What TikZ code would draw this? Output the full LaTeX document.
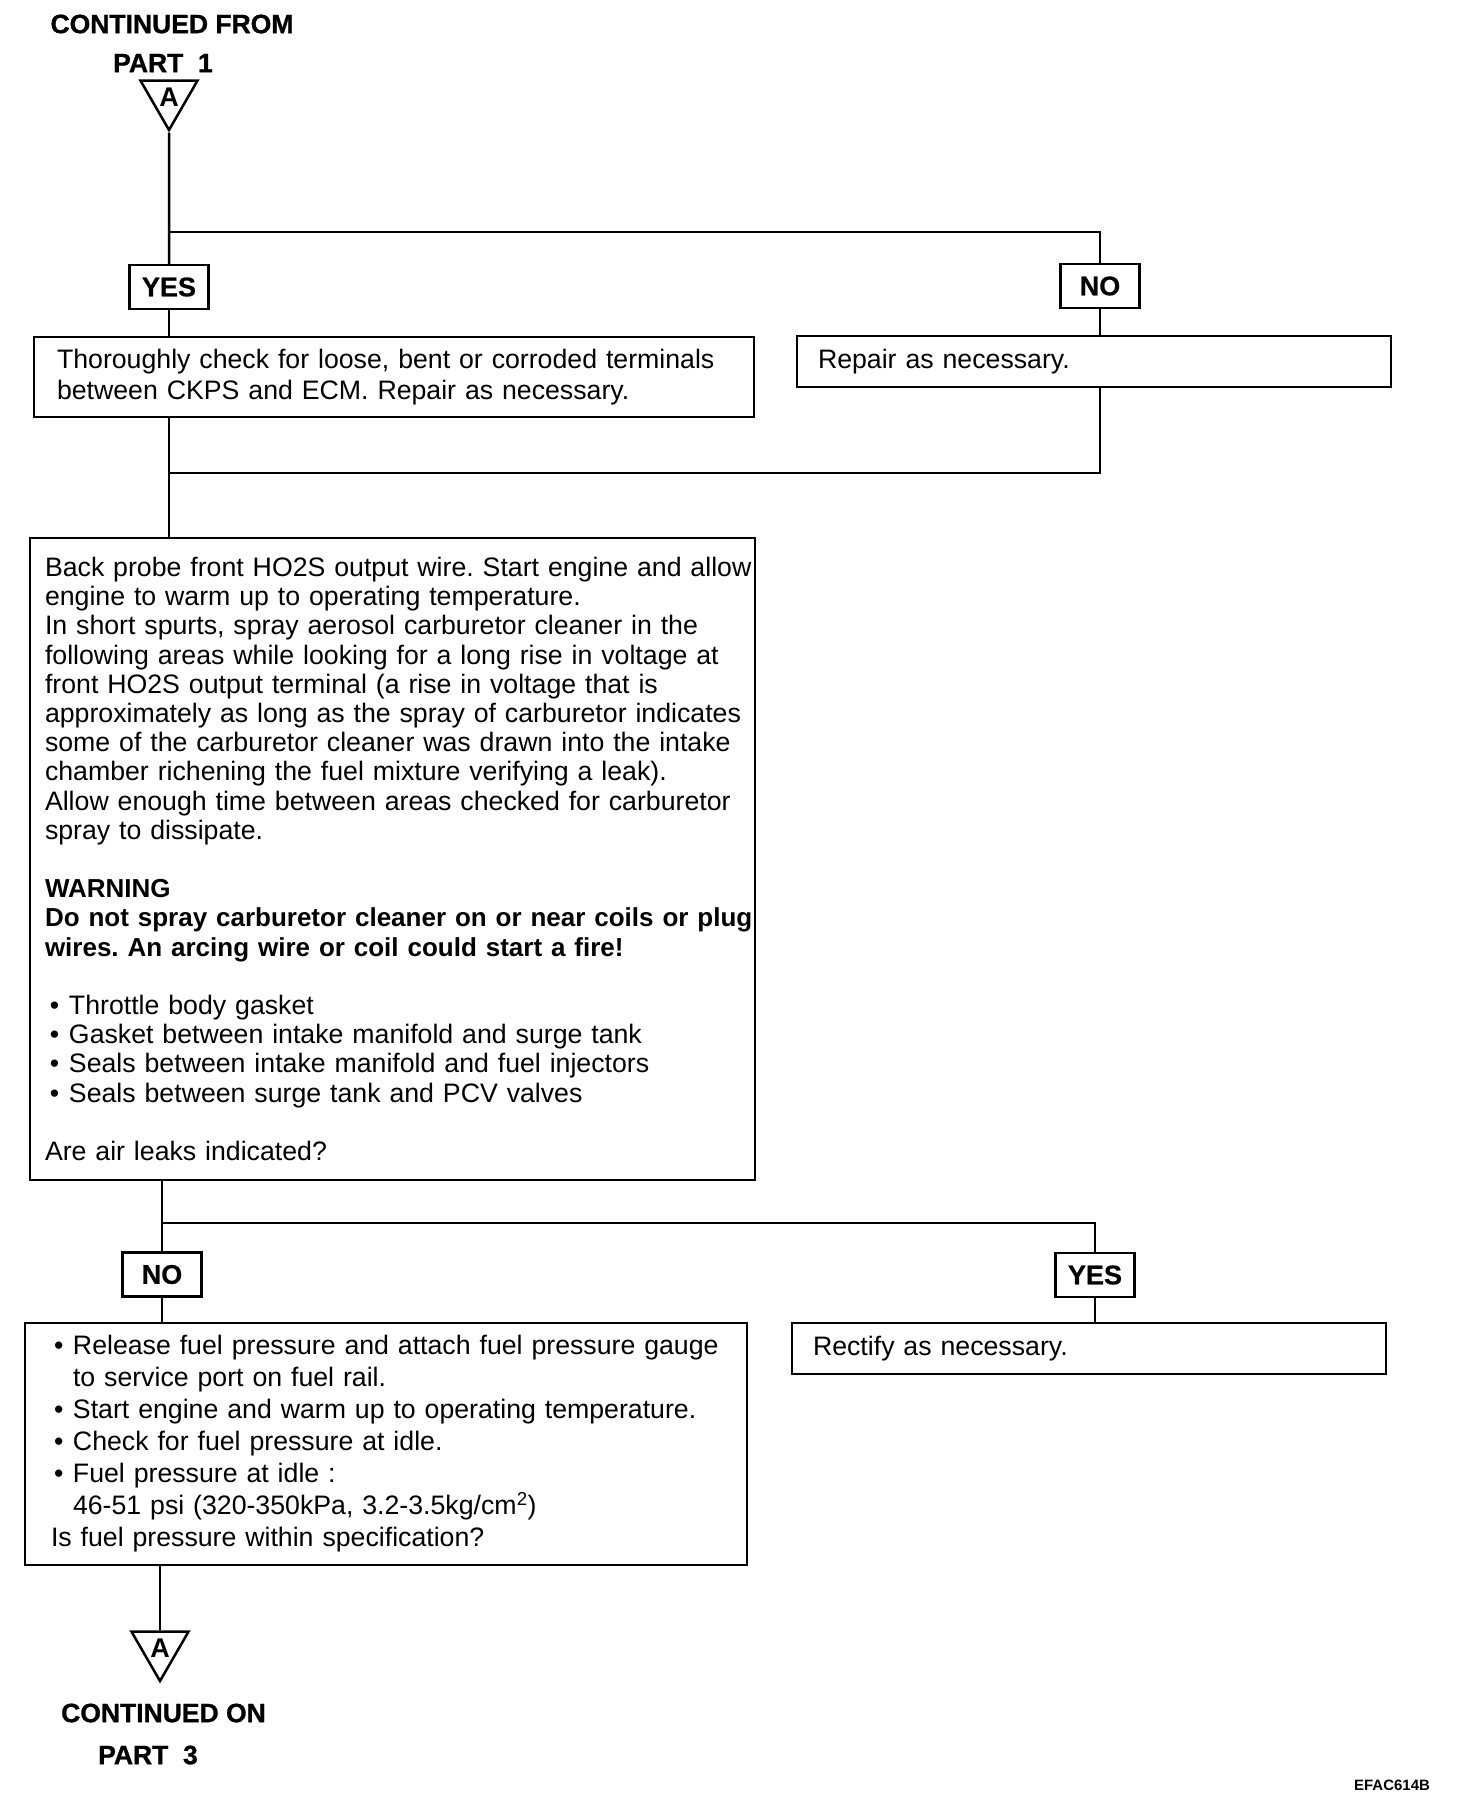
\documentclass[tikz,border=0pt]{standalone}
\usepackage{fontspec}
\setmainfont{Liberation Sans}
\usetikzlibrary{shapes.geometric}
\frenchspacing
\newcommand{\bul}{\makebox[24pt][l]{\hspace{5pt}•}}
\newcommand{\bulb}{\makebox[22pt][l]{\hspace{3pt}•}}
\newcommand{\tln}[1]{\mbox{#1}}
\newcommand{\bln}[1]{\mbox{\bfseries\fontsize{26}{29.2}\selectfont #1}}
\begin{document}
\begin{tikzpicture}[x=1pt,y=-1pt,
  conn/.style={line width=2.5pt},
  box/.style={draw, line width=2.5pt, rectangle, inner ysep=0pt, align=left,
    font=\fontsize{26.7}{29.2}\selectfont},
  lbl/.style={draw, line width=2.5pt, font=\bfseries\fontsize{27}{27}\selectfont\addfontfeature{FakeBold=0.6},
    inner sep=0pt, minimum width=79pt, minimum height=44pt},
  tri/.style={draw, line width=2.5pt, line join=miter, regular polygon, regular polygon sides=3,
    shape border rotate=180, minimum size=66pt, inner sep=0pt,
    font=\bfseries\fontsize{27}{27}\selectfont},
  head/.style={font=\bfseries\fontsize{26.5}{26.5}\selectfont\addfontfeature{FakeBold=1}, inner sep=0pt}]
\useasboundingbox (0,0) rectangle (1472,1816);

\node[head] (cf) at (172,24) {CONTINUED FROM};
\node[head] (p1) at (163,63) {PART\ \ 1};
\node[tri] (tA) at (169,97) {\raisebox{-5pt}{A}};

\node[lbl] (yes1) at (169,287) {YES};
\node[lbl] (no1) at (1100,286) {NO};

\node[box, minimum width=720pt, minimum height=80pt, text width=674pt, inner xsep=23pt,
  font=\fontsize{26.7}{31.3}\selectfont] (b1) at (394,377)
  {\tln{Thoroughly check for loose, bent or corroded terminals}\\\tln{between CKPS and ECM. Repair as necessary.}};
\node[box, minimum width=594pt, minimum height=51pt, text width=552pt, inner xsep=21pt] (b2) at (1094,361.5)
  {Repair as necessary.};

\node[box, minimum width=725pt, minimum height=642pt, text width=695pt, inner xsep=15pt] (b3) at (392.5,859)
  {\tln{Back probe front HO2S output wire. Start engine and allow}\\
   \tln{engine to warm up to operating temperature.}\\
   \tln{In short spurts, spray aerosol carburetor cleaner in the}\\
   \tln{following areas while looking for a long rise in voltage at}\\
   \tln{front HO2S output terminal (a rise in voltage that is}\\
   \tln{approximately as long as the spray of carburetor indicates}\\
   \tln{some of the carburetor cleaner was drawn into the intake}\\
   \tln{chamber richening the fuel mixture verifying a leak).}\\
   \tln{Allow enough time between areas checked for carburetor}\\
   \tln{spray to dissipate.}\\[29.2pt]
   \bln{WARNING}\\
   \bln{Do not spray carburetor cleaner on or near coils or plug}\\
   \bln{wires. An arcing wire or coil could start a fire!}\\[29.2pt]
   \tln{\bul Throttle body gasket}\\
   \tln{\bul Gasket between intake manifold and surge tank}\\
   \tln{\bul Seals between intake manifold and fuel injectors}\\
   \tln{\bul Seals between surge tank and PCV valves}\\[29.2pt]
   \tln{Are air leaks indicated?}};

\node[lbl] (no2) at (162,1274.5) {NO};
\node[lbl] (yes2) at (1095,1275) {YES};

\node[box, minimum width=722pt, minimum height=242pt, text width=670pt, inner xsep=26pt,
  font=\fontsize{26.7}{32}\selectfont] (b4) at (386,1444)
  {\tln{\bulb Release fuel pressure and attach fuel pressure gauge}\\
   \tln{\hspace*{22pt}to service port on fuel rail.}\\
   \tln{\bulb Start engine and warm up to operating temperature.}\\
   \tln{\bulb Check for fuel pressure at idle.}\\
   \tln{\bulb Fuel pressure at idle :}\\
   \tln{\hspace*{22pt}46-51 psi (320-350kPa, 3.2-3.5kg/cm\textsuperscript{2})}\\
   \tln{Is fuel pressure within specification?}};
\node[box, minimum width=594pt, minimum height=51pt, text width=552pt, inner xsep=21pt] (b5) at (1089,1348.5)
  {Rectify as necessary.};

\node[tri] (tA2) at (160,1648) {\raisebox{-5pt}{A}};
\node[head] (co) at (163.5,1713) {CONTINUED ON};
\node[head] (p3) at (148,1755) {PART\ \ 3};
\node[font=\bfseries\fontsize{15}{15}\selectfont, inner sep=0pt] (code) at (1392,1785) {EFAC614B};

\coordinate (j1) at (169,232);
\coordinate (j2) at (169,473);
\coordinate (j3) at (162,1223);

\draw[conn] (tA.south) -- (yes1.north);
\draw[conn] (j1) -| (no1.north);
\draw[conn] (yes1.south) -- (yes1.south |- b1.north);
\draw[conn] (no1.south) -- (no1.south |- b2.north);
\draw[conn] (yes1.south |- b1.south) -- (yes1.south |- b3.north);
\draw[conn] (no1.south |- b2.south) |- (j2);
\draw[conn] (no2.north |- b3.south) -- (no2.north);
\draw[conn] (j3) -| (yes2.north);
\draw[conn] (no2.south) -- (no2.south |- b4.north);
\draw[conn] (yes2.south) -- (yes2.south |- b5.north);
\draw[conn] (tA2.north |- b4.south) -- (tA2.north);
\end{tikzpicture}
\end{document}
